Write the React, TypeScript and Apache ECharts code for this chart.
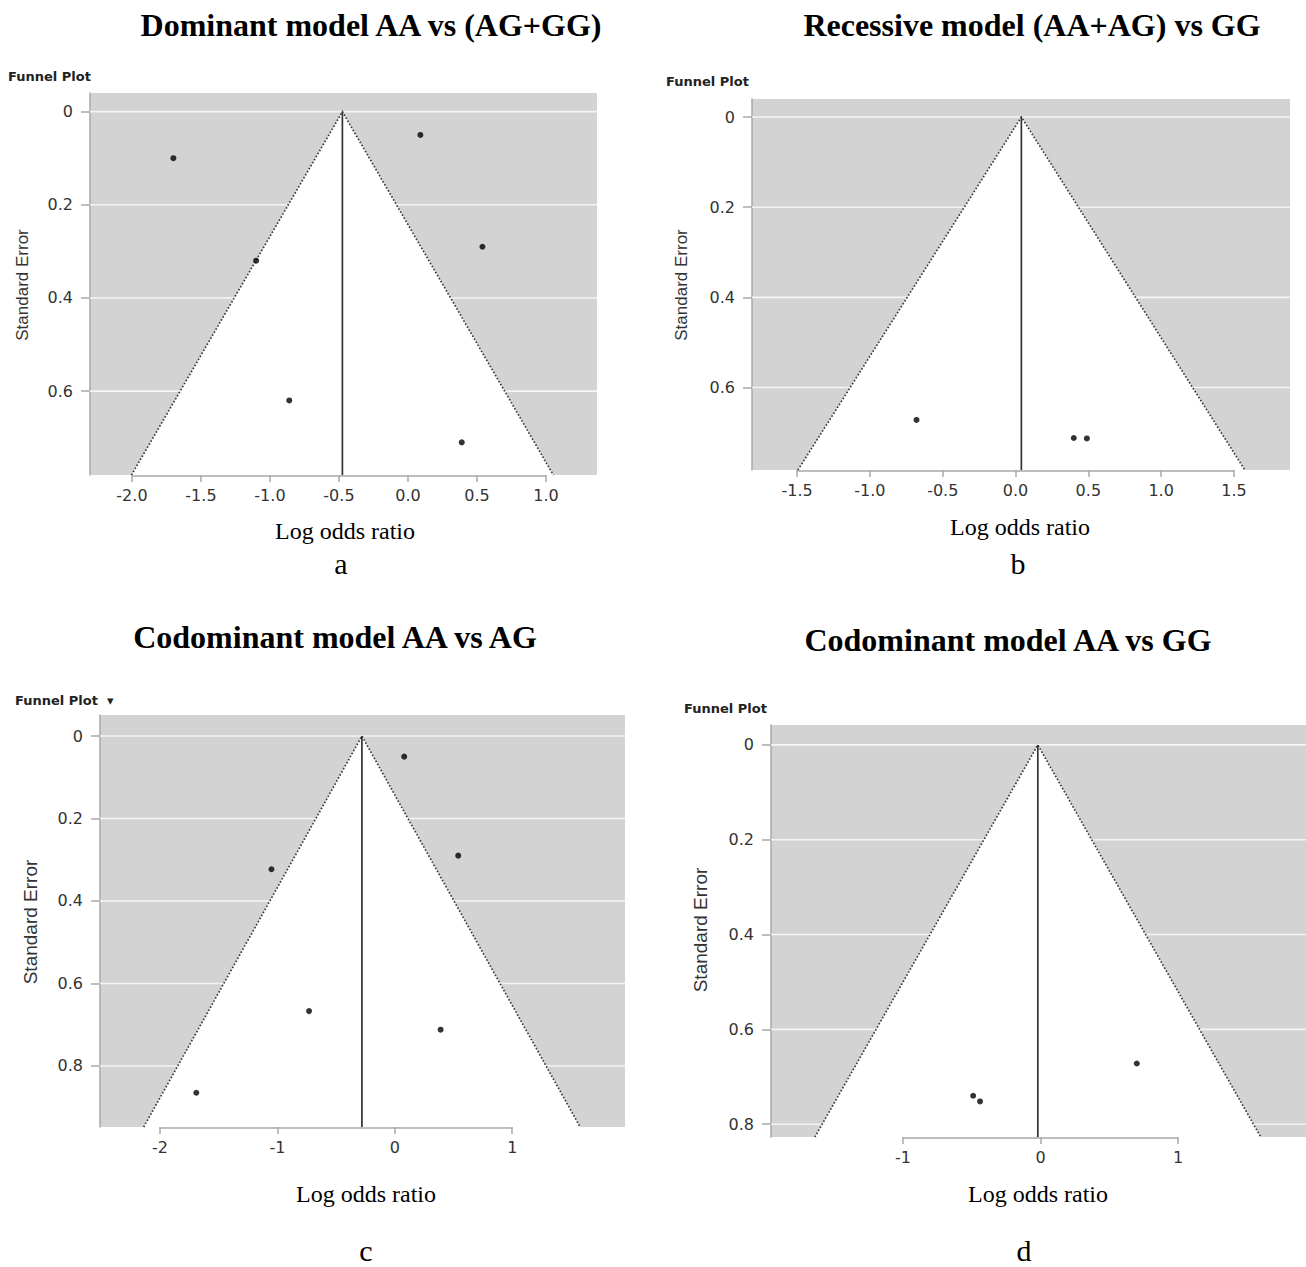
import React, { useEffect, useRef } from "react";
import * as echarts from "echarts";

// ---- Data (log odds ratio vs standard error) ----
// Panel a: Dominant model AA vs (AG+GG)
const aLogOR = [-1.7, 0.09, -1.1, 0.54, -0.86, 0.39];
const aSE = [0.1, 0.05, 0.32, 0.29, 0.62, 0.71];
const aPooled = -0.475;
// Panel b: Recessive model (AA+AG) vs GG
const bLogOR = [-0.68, 0.4, 0.49];
const bSE = [0.672, 0.712, 0.713];
const bPooled = 0.04;
// Panel c: Codominant model AA vs AG
const cLogOR = [0.08, -1.05, 0.54, -0.73, 0.39, -1.69];
const cSE = [0.05, 0.323, 0.29, 0.667, 0.712, 0.865];
const cPooled = -0.28;
// Panel d: Codominant model AA vs GG
const dLogOR = [0.7, -0.49, -0.44];
const dSE = [0.672, 0.74, 0.752];
const dPooled = -0.02;

// ---- Tick labels ----
const abYTicks = [0, 0.2, 0.4, 0.6];
const cdYTicks = [0, 0.2, 0.4, 0.6, 0.8];
const aXTicks = [-2.0, -1.5, -1.0, -0.5, 0.0, 0.5, 1.0];
const bXTicks = [-1.5, -1.0, -0.5, 0.0, 0.5, 1.0, 1.5];
const cXTicks = [-2, -1, 0, 1];
const dXTicks = [-1, 0, 1];

const titles = [
  "Dominant model AA vs (AG+GG)",
  "Recessive model (AA+AG) vs GG",
  "Codominant model AA vs AG",
  "Codominant model AA vs GG",
];
const panelLetters = ["a", "b", "c", "d"];
const Z95 = 1.96;

type Panel = {
  x: number[];
  se: number[];
  pooled: number;
  xTicks: number[];
  yTicks: number[];
  xDec: number;
  xRange: [number, number];
  yRange: [number, number];
  grid: { left: number; top: number; width: number; height: number };
  title: [number, number];
  funnelLbl: [number, number];
  arrow: boolean;
  se_lbl: [number, number, number];
  lor: [number, number];
  letter: [number, number];
};

const panels: Panel[] = [
  {
    x: aLogOR, se: aSE, pooled: aPooled, xTicks: aXTicks, yTicks: abYTicks, xDec: 1,
    xRange: [-2.304, 1.37], yRange: [-0.04, 0.78],
    grid: { left: 90, top: 93, width: 507, height: 382 },
    title: [371, 25], funnelLbl: [8, 76], arrow: false, se_lbl: [22, 285, 17],
    lor: [345, 531], letter: [341, 563],
  },
  {
    x: bLogOR, se: bSE, pooled: bPooled, xTicks: bXTicks, yTicks: abYTicks, xDec: 1,
    xRange: [-1.81, 1.885], yRange: [-0.04, 0.783],
    grid: { left: 752, top: 99, width: 538, height: 371 },
    title: [1032, 25], funnelLbl: [666, 81], arrow: false, se_lbl: [681, 285, 17],
    lor: [1020, 527], letter: [1018, 563],
  },
  {
    x: cLogOR, se: cSE, pooled: cPooled, xTicks: cXTicks, yTicks: cdYTicks, xDec: 0,
    xRange: [-2.51, 1.96], yRange: [-0.051, 0.948],
    grid: { left: 100, top: 715, width: 525, height: 412 },
    title: [335, 637], funnelLbl: [15, 700], arrow: true, se_lbl: [30, 922, 19],
    lor: [366, 1194], letter: [366, 1250],
  },
  {
    x: dLogOR, se: dSE, pooled: dPooled, xTicks: dXTicks, yTicks: cdYTicks, xDec: 0,
    xRange: [-1.96, 1.93], yRange: [-0.042, 0.827],
    grid: { left: 771, top: 725, width: 535, height: 412 },
    title: [1008, 640], funnelLbl: [684, 708], arrow: false, se_lbl: [700, 930, 19],
    lor: [1038, 1194], letter: [1024, 1250],
  },
];

const GRAY = "#d3d3d3";
const AXIS_GRAY = "#a8a8a8";
const LABEL_FONT = '"DejaVu Sans", sans-serif';

function buildOption() {
  const grid: any[] = [];
  const xAxis: any[] = [];
  const yAxis: any[] = [];
  const series: any[] = [];
  const graphic: any[] = [];

  panels.forEach((p, i) => {
    grid.push({
      ...p.grid,
      show: true,
      backgroundColor: GRAY,
      borderWidth: 0,
      containLabel: false,
    });
    xAxis.push({
      type: "value",
      gridIndex: i,
      position: "bottom",
      min: p.xRange[0],
      max: p.xRange[1],
      axisLine: { show: false, onZero: false },
      axisTick: {
        show: true,
        customValues: p.xTicks,
        length: 7,
        lineStyle: { color: AXIS_GRAY, width: 1.5 },
      },
      axisLabel: {
        show: true,
        customValues: p.xTicks,
        formatter: (v: number) => v.toFixed(p.xDec),
        margin: 12,
        color: "#333",
        fontSize: 16,
        fontFamily: LABEL_FONT,
      },
      splitLine: { show: false },
    });
    yAxis.push({
      type: "value",
      gridIndex: i,
      position: "left",
      inverse: true,
      min: p.yRange[0],
      max: p.yRange[1],
      axisLine: { show: true, onZero: false, lineStyle: { color: AXIS_GRAY, width: 1.5 } },
      axisTick: {
        show: true,
        customValues: p.yTicks,
        length: 9,
        lineStyle: { color: AXIS_GRAY, width: 1.5 },
      },
      axisLabel: {
        show: true,
        customValues: p.yTicks,
        formatter: (v: number) => (v === 0 ? "0" : v.toFixed(1)),
        margin: 17,
        color: "#333",
        fontSize: 16,
        fontFamily: LABEL_FONT,
      },
      splitLine: { show: false },
    });

    // white horizontal grid lines
    series.push({
      type: "custom",
      xAxisIndex: i,
      yAxisIndex: i,
      z: 1,
      silent: true,
      data: p.yTicks.map((v) => [p.xRange[0], v]),
      renderItem: (params: any, api: any) => {
        const pt = api.coord([api.value(0), api.value(1)]);
        const cs = params.coordSys;
        return {
          type: "line",
          shape: { x1: cs.x, y1: pt[1], x2: cs.x + cs.width, y2: pt[1] },
          style: { stroke: "#f4f4f4", lineWidth: 1.6 },
        };
      },
    });

    // funnel (pooled estimate +/- 1.96 SE), pooled line, x axis line
    const yBottom = p.yRange[1];
    series.push({
      type: "custom",
      xAxisIndex: i,
      yAxisIndex: i,
      z: 2,
      silent: true,
      clip: false,
      data: [[p.pooled, yBottom, p.xTicks[0], p.xTicks[p.xTicks.length - 1]]],
      encode: { x: [0, 2, 3], y: 1 },
      renderItem: (params: any, api: any) => {
        const c = api.value(0);
        const yb = api.value(1);
        const half = Z95 * yb;
        const apex = api.coord([c, 0]);
        const bl = api.coord([c - half, yb]);
        const br = api.coord([c + half, yb]);
        const cb = api.coord([c, yb]);
        const a0 = api.coord([api.value(2), yb]);
        const a1 = api.coord([api.value(3), yb]);
        return {
          type: "group",
          children: [
            {
              type: "polygon",
              shape: { points: [bl, apex, br] },
              style: { fill: "#ffffff", stroke: null },
            },
            {
              type: "polyline",
              shape: { points: [bl, apex, br] },
              style: { stroke: "#3a3a3a", lineWidth: 1.7, lineDash: [1.6, 1.9], fill: null },
            },
            {
              type: "line",
              shape: { x1: apex[0], y1: apex[1], x2: cb[0], y2: cb[1] },
              style: { stroke: "#333", lineWidth: 1.7 },
            },
            {
              type: "line",
              shape: { x1: a0[0], y1: a0[1] + 1, x2: a1[0], y2: a1[1] + 1 },
              style: { stroke: AXIS_GRAY, lineWidth: 1.5 },
            },
          ],
        };
      },
    });

    // study points
    series.push({
      type: "scatter",
      xAxisIndex: i,
      yAxisIndex: i,
      z: 5,
      symbol: "circle",
      symbolSize: 6,
      itemStyle: { color: "#000" },
      data: p.x.map((v, k) => [v, p.se[k]]),
    });

    // texts
    graphic.push({
      type: "text",
      x: p.title[0],
      y: p.title[1],
      style: {
        text: titles[i],
        fontFamily: '"Liberation Serif", "Times New Roman", serif',
        fontWeight: "bold",
        fontSize: 32,
        fill: "#000",
        align: "center",
        verticalAlign: "middle",
      },
    });
    graphic.push({
      type: "text",
      x: p.funnelLbl[0],
      y: p.funnelLbl[1],
      style: {
        text: p.arrow ? "Funnel Plot  \u25BE" : "Funnel Plot",
        fontFamily: LABEL_FONT,
        fontWeight: "bold",
        fontSize: 13,
        fill: "#222",
        align: "left",
        verticalAlign: "middle",
      },
    });
    graphic.push({
      type: "text",
      x: p.se_lbl[0],
      y: p.se_lbl[1],
      rotation: Math.PI / 2,
      style: {
        text: "Standard Error",
        fontFamily: '"Liberation Sans", Arial, sans-serif',
        fontSize: p.se_lbl[2],
        fill: "#333",
        align: "center",
        verticalAlign: "middle",
      },
    });
    graphic.push({
      type: "text",
      x: p.lor[0],
      y: p.lor[1],
      style: {
        text: "Log odds ratio",
        fontFamily: '"Liberation Serif", "Times New Roman", serif',
        fontSize: 24,
        fill: "#000",
        align: "center",
        verticalAlign: "middle",
      },
    });
    graphic.push({
      type: "text",
      x: p.letter[0],
      y: p.letter[1],
      style: {
        text: panelLetters[i],
        fontFamily: '"Liberation Serif", "Times New Roman", serif',
        fontSize: 30,
        fill: "#000",
        align: "center",
        verticalAlign: "middle",
      },
    });
  });

  return {
    animation: false,
    backgroundColor: "#ffffff",
    grid,
    xAxis,
    yAxis,
    series,
    graphic,
  };
}

export default function App() {
  const ref = useRef<HTMLDivElement>(null);
  useEffect(() => {
    document.body.style.margin = "0";
    if (!ref.current) return;
    const chart = echarts.init(ref.current, null, { renderer: "svg" });
    chart.setOption(buildOption() as any);
    return () => chart.dispose();
  }, []);
  return <div ref={ref} style={{ width: 1306, height: 1267 }} />;
}
